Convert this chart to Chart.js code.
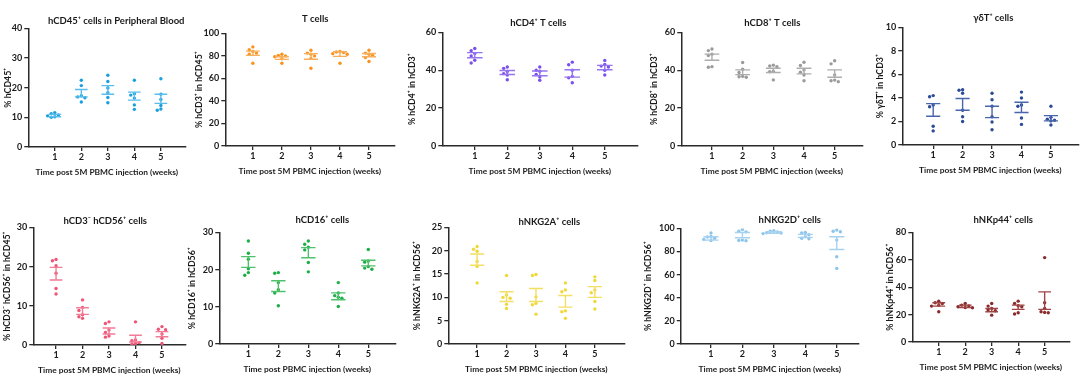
<!DOCTYPE html>
<html>
<head>
<meta charset="utf-8">
<script src="https://cdn.jsdelivr.net/npm/chart.js@4.4.1/dist/chart.umd.min.js"></script>
<style>
  html, body { margin: 0; padding: 0; background: #ffffff; }
  #wrap { position: relative; width: 1080px; height: 389px; overflow: hidden; background: #fff; }
  canvas { position: absolute; }
</style>
</head>
<body>
<div id="wrap"></div>
<script>
// ---------------- DATA ----------------
const WEEKS = [1, 2, 3, 4, 5];
const WEEK_LABELS = ['1', '2', '3', '4', '5'];

const PANEL_TITLES = ['hCD45⁺ cells in Peripheral Blood', 'T cells', 'hCD4⁺ T cells', 'hCD8⁺ T cells', 'γδT⁺ cells',
  'hCD3⁻ hCD56⁺ cells', 'hCD16⁺ cells', 'hNKG2A⁺ cells', 'hNKG2D⁺ cells', 'hNKp44⁺ cells'];
const Y_TITLES = ['% hCD45⁺', '% hCD3⁺ in hCD45⁺', '% hCD4⁺ in hCD3⁺', '% hCD8⁺ in hCD3⁺', '% γδT⁺ in hCD3⁺',
  '% hCD3⁻ hCD56⁺ in hCD45⁺', '% hCD16⁺ in hCD56⁺', '% hNKG2A⁺ in hCD56⁺', '% hNKG2D⁺ in hCD56⁺', '% hNKp44⁺ in hCD56⁺'];
const X_TITLES = ['Time post 5M PBMC injection (weeks)', 'Time post 5M PBMC injection (weeks)', 'Time post 5M PBMC injection (weeks)',
  'Time post 5M PBMC injection (weeks)', 'Time post 5M PBMC injection (weeks)', 'Time post 5M PBMC injection (weeks)',
  'Time post PBMC injection (weeks)', 'Time post 5M PBMC injection (weeks)', 'Time post 5M PBMC injection (weeks)',
  'Time post 5M PBMC injection (weeks)'];
const Y_MAX = [40, 100, 60, 60, 10, 30, 30, 25, 100, 80];
const Y_STEP = [10, 20, 20, 20, 2, 10, 10, 5, 20, 20];

// individual animals per week, plus mean ± SEM whisker ends
const hCD45_points = [[11.6, 11.2, 10.8, 10.5, 10.2, 10.0], [22.5, 20.7, 17.3, 16.9, 16.6, 15.2], [24.2, 22.1, 19.9, 18.3, 16.7, 14.9], [22.5, 18.0, 17.5, 16.5, 14.2, 12.7], [23.0, 17.8, 16.0, 14.0, 12.8, 12.4]];
const hCD45_hi = [11.0, 19.4, 20.7, 18.5, 17.8];
const hCD45_lo = [10.2, 16.9, 17.8, 15.8, 14.7];

const tcell_points = [[88, 85.5, 84, 82.5, 81.5, 73.5], [81.5, 80.5, 80, 79.3, 77.5, 73.5], [85, 82.5, 81.5, 80, 77.8, 69], [84, 83.5, 83, 82, 81.5, 73.5], [85, 82.5, 81.5, 80.5, 78.5, 75]];
const tcell_hi = [84.3, 79.3, 82.0, 83.7, 82.2];
const tcell_lo = [80.5, 76.9, 77.0, 79.6, 79.3];

const hCD4_points = [[51.5, 50.3, 48.8, 47.5, 45.3, 43.8], [41.7, 41.0, 39.4, 38.2, 37.5, 35.0], [41.7, 40.0, 39.5, 37.8, 36.5, 34.7], [44.3, 42.9, 40.0, 36.8, 36.0, 33.4], [45.2, 43.1, 42.2, 41.7, 40.0, 37.5]];
const hCD4_hi = [49.3, 39.9, 39.6, 40.3, 42.6];
const hCD4_lo = [46.6, 37.8, 37.1, 36.4, 40.3];

const hCD8_points = [[51.2, 50.4, 48.5, 47.8, 41.9, 41.6], [44.1, 40.5, 38.8, 36.8, 36.6, 36.3], [42.7, 42.3, 41.9, 39.5, 39.2, 34.9], [44.2, 42.5, 40.2, 39.0, 37.5, 34.5], [45.0, 43.4, 37.5, 34.8, 34.5, 34.0]];
const hCD8_hi = [48.5, 40.2, 41.1, 41.1, 40.2];
const hCD8_lo = [45.3, 37.7, 38.8, 38.1, 36.3];

const gdT_points = [[4.2, 4.1, 3.4, 3.25, 1.6, 1.2], [4.7, 4.65, 4.4, 2.95, 2.4, 2.0], [4.4, 3.85, 3.3, 2.4, 1.95, 1.3], [4.5, 4.0, 3.4, 3.3, 2.3, 1.75], [3.3, 2.35, 2.2, 2.1, 2.05, 1.7]];
const gdT_hi = [3.52, 3.95, 3.30, 3.64, 2.50];
const gdT_lo = [2.44, 2.95, 2.33, 2.76, 2.05];

const hCD56_points = [[21.8, 21.5, 20.2, 18.3, 14.4, 13.0], [11.5, 9.6, 8.8, 7.7, 7.2, 6.8], [5.9, 5.5, 3.8, 3.2, 2.3, 2.0], [5.9, 1.3, 1.1, 0.6, 0.4, 0.2], [4.7, 4.0, 3.9, 2.8, 1.7, 0.4]];
const hCD56_hi = [19.8, 9.5, 4.35, 2.47, 3.4];
const hCD56_lo = [16.6, 7.8, 2.8, 0.77, 2.1];

const hCD16_points = [[27.7, 24.4, 22.8, 20.2, 19.2, 18.5], [19.2, 19.0, 16.5, 14.6, 13.7, 10.3], [27.7, 26.8, 26.0, 25.3, 21.9, 19.4], [16.5, 13.7, 13.0, 12.6, 12.3, 10.1], [25.4, 22.3, 22.0, 20.8, 20.4, 20.1]];
const hCD16_hi = [23.5, 17.0, 25.9, 13.75, 22.5];
const hCD16_lo = [20.6, 14.1, 23.2, 11.9, 21.0];

const NKG2A_points = [[20.9, 20.3, 19.9, 17.7, 16.6, 13.1], [14.7, 10.5, 10.0, 9.8, 8.5, 7.6], [14.9, 14.7, 10.1, 8.7, 8.4, 6.4], [13.1, 11.6, 11.2, 7.1, 6.9, 5.5], [14.4, 13.6, 11.6, 11.0, 9.1, 7.5]];
const NKG2A_hi = [19.3, 11.2, 11.9, 10.4, 12.3];
const NKG2A_lo = [16.9, 9.1, 9.1, 7.9, 10.0];

const NKG2D_points = [[96.0, 93.0, 92.5, 91.5, 90.5, 89.5], [99.1, 97.5, 97.0, 89.9, 89.6, 89.3], [98.0, 97.5, 97.0, 96.3, 96.0, 95.5], [96.5, 96.0, 94.5, 92.8, 91.5, 91.0], [98.6, 97.5, 97.1, 89.9, 75.5, 65.4]];
const NKG2D_hi = [92.8, 96.5, 97.1, 94.8, 92.8];
const NKG2D_lo = [89.9, 91.9, 95.7, 92.2, 81.8];

const NKp44_points = [[29.8, 28.6, 28.1, 26.9, 26.2, 22.1], [28.1, 26.9, 26.4, 25.7, 25.2, 25.0], [28.1, 26.2, 24.5, 23.5, 22.8, 19.6], [29.8, 28.1, 26.5, 25.7, 21.3, 20.4], [61.6, 28.6, 24.5, 22.1, 21.6, 21.3]];
const NKp44_hi = [28.6, 26.9, 24.5, 26.9, 36.6];
const NKp44_lo = [26.2, 25.2, 22.1, 23.8, 23.8];

// ---------------- STYLE / LAYOUT ----------------
const SERIES = [
  [hCD45_points, hCD45_hi, hCD45_lo],
  [tcell_points, tcell_hi, tcell_lo],
  [hCD4_points, hCD4_hi, hCD4_lo],
  [hCD8_points, hCD8_hi, hCD8_lo],
  [gdT_points, gdT_hi, gdT_lo],
  [hCD56_points, hCD56_hi, hCD56_lo],
  [hCD16_points, hCD16_hi, hCD16_lo],
  [NKG2A_points, NKG2A_hi, NKG2A_lo],
  [NKG2D_points, NKG2D_hi, NKG2D_lo],
  [NKp44_points, NKp44_hi, NKp44_lo]
];
const POINT_COLORS = ['#1C9FDD', '#F7931E', '#7A4FEA', '#9A9A9A', '#2D4C98', '#EE5577', '#1DAE47', '#EFD83A', '#8CC5EC', '#8A2A2A'];
const BAR_COLORS = ['#5ABDEB', '#F8AE5A', '#9676F0', '#ADADAD', '#4966AC', '#F27B95', '#4FC16C', '#F2DF63', '#A6D2F0', '#A04545'];
// geometry: L,R,T,B (plot box), xMin,xMax, y-title centre x, title centre x,y
const GEO = [
  [28, 185, 28, 147, 0, 5.92, 8, 116, 21],
  [225, 394, 33, 146, 0.05, 5.87, 199, 315, 19],
  [442, 637, 32, 146, 0, 6.0, 412, 538, 22.5],
  [681, 862, 32.5, 146, 0, 5.9, 654, 772, 23],
  [902, 1078, 27.5, 145, -0.05, 5.93, 880, 993, 18.5],
  [33, 185, 227.5, 345, 0.14, 5.88, 7, 105, 221],
  [219, 395, 232, 344, 0.03, 5.9, 192, 322, 219.5],
  [448, 624, 227.5, 344, 0.02, 6.0, 417, 549, 222],
  [681, 859, 228, 344, 0.04, 5.7, 648.5, 790, 220],
  [912, 1069, 232, 342, 0, 5.93, 890, 1003, 219.5]
];
const FONT = 'Lato, "Open Sans", "DejaVu Sans", sans-serif';
const AXIS_COLOR = '#2a2a2a';
const TOP_PAD = 10, TITLE_SIZE = 9.5, X_AXIS_H = 32, YT_SIZE = 8.8, RIGHT_EXTRA = 14;

const titlePlacer = {
  id: 'titlePlacer',
  afterLayout(chart) {
    const o = chart.options.plugins.titlePlacer;
    const tb = chart.titleBlock;
    if (!tb || !o) return;
    tb.left = o.cx - 120; tb.right = o.cx + 120; tb.width = 240;
    tb.top = o.cy - tb.height / 2; tb.bottom = tb.top + tb.height;
  }
};

function swarm(values, w, dxUnit, dyMin) {
  const placed = [];
  const order = values.slice().sort((a, b) => b - a);
  for (const v of order) {
    for (const k of [0, -1, 1, -2, 2, -3, 3]) {
      const x = w + k * dxUnit;
      const clash = placed.some(p => Math.abs(p.y - v) < dyMin && Math.abs(p.x - x) < dxUnit * 0.9);
      if (!clash) { placed.push({ x, y: v }); break; }
    }
  }
  return placed;
}

const wrap = document.getElementById('wrap');
SERIES.forEach((s, i) => {
  const [pts, hi, lo] = s;
  const [L, R, T, B, xMin, xMax, ytx, tcx, tcy] = GEO[i];
  const ytLH = YT_SIZE * 1.2;
  const cx0 = ytx - ytLH / 2;
  const titleH = TITLE_SIZE * 1.2;
  const cy0 = T - TOP_PAD - titleH;
  const w = R + RIGHT_EXTRA - cx0, h = Math.round(B - cy0 + X_AXIS_H);
  const yAxisW = L - cx0;

  const c = document.createElement('canvas');
  c.width = Math.ceil(w); c.height = h;
  c.style.left = cx0 + 'px'; c.style.top = cy0 + 'px';
  c.style.width = Math.ceil(w) + 'px'; c.style.height = h + 'px';
  wrap.appendChild(c);
  const padRight = Math.ceil(w) - (R - cx0);

  const xPerPx = (xMax - xMin) / (R - L);
  const yPerPx = Y_MAX[i] / (B - T);
  const dots = [];
  WEEKS.forEach((wk, j) => dots.push(...swarm(pts[j], wk, 3.6 * xPerPx, 3.4 * yPerPx)));

  const cap = 0.24;
  const bars = [];
  WEEKS.forEach((wk, j) => {
    bars.push({ x: wk - cap, y: hi[j] }, { x: wk + cap, y: hi[j] }, { x: wk, y: null });
    bars.push({ x: wk, y: hi[j] }, { x: wk, y: lo[j] }, { x: wk, y: null });
    bars.push({ x: wk - cap, y: lo[j] }, { x: wk + cap, y: lo[j] }, { x: wk, y: null });
  });

  new Chart(c, {
    type: 'scatter',
    data: {
      datasets: [
        { label: 'mean ± SEM', data: bars, showLine: true, spanGaps: false, borderColor: BAR_COLORS[i], borderWidth: 1.4, pointRadius: 0, order: 1 },
        { label: 'animals', data: dots, backgroundColor: POINT_COLORS[i], borderColor: POINT_COLORS[i], borderWidth: 0, pointRadius: 1.7, order: 2 }
      ]
    },
    plugins: [titlePlacer],
    options: {
      responsive: false, animation: false, devicePixelRatio: 1,
      layout: { padding: { top: TOP_PAD, right: padRight, left: 0, bottom: 0 } },
      plugins: {
        legend: { display: false }, tooltip: { enabled: false },
        title: { display: true, text: PANEL_TITLES[i], color: '#1a1a1a', padding: 0,
          font: { family: FONT, size: TITLE_SIZE, weight: 'bold', lineHeight: 1.2 } },
        titlePlacer: { cx: tcx - cx0, cy: tcy - cy0 }
      },
      scales: {
        x: {
          type: 'linear', min: xMin, max: xMax,
          afterBuildTicks: sc => { sc.ticks = WEEKS.map(v => ({ value: v })); },
          afterFit: sc => { sc.height = X_AXIS_H; },
          ticks: { callback: (v) => WEEK_LABELS[WEEKS.indexOf(v)], color: '#1a1a1a', padding: 1, maxRotation: 0, autoSkip: false,
            font: { family: FONT, size: 9, weight: 'bold' } },
          grid: { drawOnChartArea: false, drawTicks: true, tickLength: 4, color: AXIS_COLOR, lineWidth: 1.3 },
          border: { display: true, color: AXIS_COLOR, width: 1.5 },
          title: { display: true, text: X_TITLES[i], color: '#1a1a1a', padding: { top: 0, bottom: 2 },
            font: { family: FONT, size: 8.4, weight: 'bold', lineHeight: 1.2 } }
        },
        y: {
          min: 0, max: Y_MAX[i],
          afterFit: sc => { sc.width = yAxisW; },
          ticks: { stepSize: Y_STEP[i], color: '#1a1a1a', padding: 2, font: { family: FONT, size: 9, weight: 'bold' } },
          grid: { drawOnChartArea: false, drawTicks: true, tickLength: 4, color: AXIS_COLOR, lineWidth: 1.3 },
          border: { display: true, color: AXIS_COLOR, width: 1.5 },
          title: { display: true, text: Y_TITLES[i], color: '#1a1a1a', padding: { top: 0, bottom: 0 },
            font: { family: FONT, size: YT_SIZE, weight: 'bold', lineHeight: 1.2 } }
        }
      }
    }
  });
});
</script>
</body>
</html>
